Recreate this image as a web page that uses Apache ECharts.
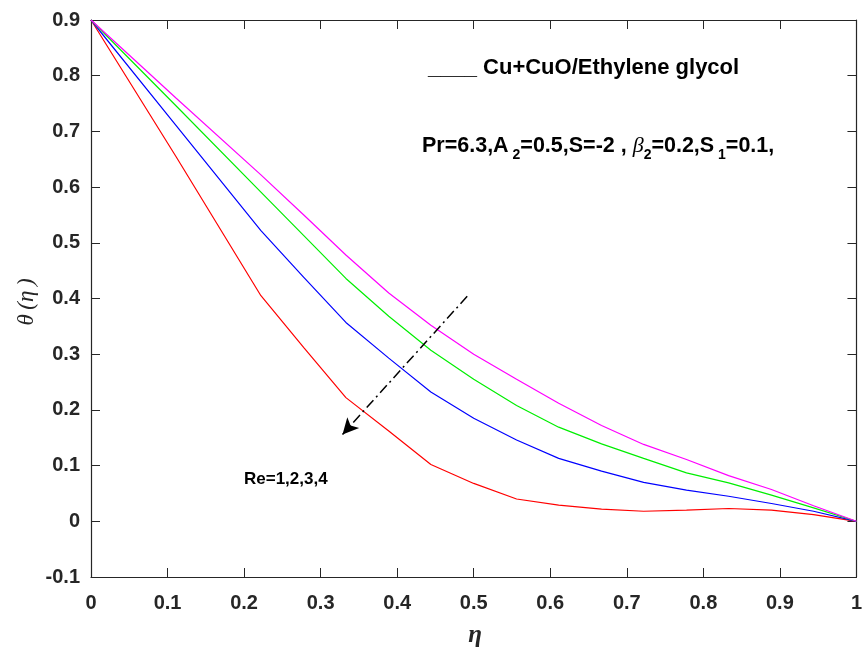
<!DOCTYPE html>
<html>
<head>
<meta charset="utf-8">
<script src="https://cdn.jsdelivr.net/npm/echarts@6/dist/echarts.min.js"></script>
<style>html,body{margin:0;padding:0;background:#fff}#c{width:865px;height:652px}</style>
</head>
<body>
<div id="c"></div>
<script>
// data
var etaValues = [0, 0.111, 0.222, 0.278, 0.333, 0.389, 0.444, 0.5, 0.556, 0.611, 0.667, 0.722, 0.778, 0.833, 0.889, 0.944, 1];
var thetaRe1 = [0.9, 0.655, 0.405, 0.312, 0.222, 0.162, 0.102, 0.068, 0.040, 0.029, 0.022, 0.018, 0.020, 0.023, 0.020, 0.012, 0];
var thetaRe2 = [0.9, 0.711, 0.522, 0.438, 0.357, 0.293, 0.232, 0.185, 0.146, 0.113, 0.090, 0.070, 0.056, 0.045, 0.032, 0.018, 0];
var thetaRe3 = [0.9, 0.746, 0.591, 0.513, 0.436, 0.368, 0.307, 0.255, 0.208, 0.169, 0.139, 0.113, 0.087, 0.069, 0.047, 0.024, 0];
var thetaRe4 = [0.9, 0.760, 0.622, 0.550, 0.478, 0.410, 0.352, 0.300, 0.255, 0.212, 0.172, 0.138, 0.111, 0.082, 0.057, 0.028, 0];
var xTicks = {min: 0, max: 1, interval: 0.1};
var yTicks = {min: -0.1, max: 0.9, interval: 0.1};
var arrowStart = [0.4915, 0.404];
var arrowEnd = [0.3286, 0.156];

function pairs(ys) { return etaValues.map(function (x, i) { return [x, ys[i]]; }); }

var axisCol = '#262626';
var lblFont = {color: axisCol, fontFamily: 'Liberation Sans, Arial, sans-serif', fontWeight: 'bold', fontSize: 20};

function lineSeries(name, ys, color, extra) {
  var s = {name: name, type: 'line', data: pairs(ys), showSymbol: false, symbol: 'none',
    lineStyle: {color: color, width: 1.2}, animation: false, z: 3};
  if (extra) for (var k in extra) s[k] = extra[k];
  return s;
}

function boxAxis(pos, isX) {
  var a = {
    type: 'value', position: pos,
    axisLine: {show: true, onZero: false, lineStyle: {color: axisCol, width: 1.2}},
    axisTick: {show: true, inside: true, length: 9, lineStyle: {color: axisCol}},
    splitLine: {show: false}
  };
  var t = isX ? xTicks : yTicks;
  a.min = t.min; a.max = t.max; a.interval = t.interval;
  return a;
}

var xBottom = boxAxis('bottom', true); xBottom.axisLabel = Object.assign({margin: 16}, lblFont);
var xTop = boxAxis('top', true); xTop.axisLabel = {show: false};
var yLeft = boxAxis('left', false); yLeft.axisLabel = Object.assign({margin: 11}, lblFont);
var yRight = boxAxis('right', false); yRight.axisLabel = {show: false};

var chart = echarts.init(document.getElementById('c'), null, {renderer: 'canvas'});
chart.setOption({
  backgroundColor: '#fff',
  animation: false,
  grid: {left: 91, top: 20, right: 7, bottom: 75, containLabel: false},
  xAxis: [xBottom, xTop],
  yAxis: [yLeft, yRight],
  series: [
    lineSeries('Re=1', thetaRe1, '#ff0000', {
      markLine: {
        silent: true, animation: false, symbolSize: [12, 16], label: {show: false},
        lineStyle: {color: '#000', width: 1.5, type: [10, 4, 2, 4]},
        data: [[{coord: arrowStart, symbol: 'none'}, {coord: arrowEnd, symbol: 'arrow'}]]
      }
    }),
    lineSeries('Re=2', thetaRe2, '#0000ff'),
    lineSeries('Re=3', thetaRe3, '#00ee00'),
    lineSeries('Re=4', thetaRe4, '#ff00ff')
  ],
  graphic: [
    {type: 'text', x: 428, y: 68, style: {text: '____ Cu+CuO/Ethylene glycol', fill: '#000',
      font: 'bold 22px "Liberation Sans", Arial, sans-serif', verticalAlign: 'middle'}},
    {type: 'text', x: 422, y: 146, style: {
      text: '{n|Pr=6.3,A}{s| 2}{n|=0.5,S=-2 , }{b|β}{s|2}{n|=0.2,S}{s| 1}{n|=0.1,}',
      verticalAlign: 'middle', fill: '#000',
      rich: {
        n: {fontFamily: 'Liberation Sans, Arial, sans-serif', fontWeight: 'bold', fontSize: 21.5, lineHeight: 32, verticalAlign: 'middle', fill: '#000'},
        b: {fontFamily: 'Liberation Serif, Times New Roman, serif', fontStyle: 'italic', fontSize: 22, lineHeight: 32, verticalAlign: 'middle', fill: '#000'},
        s: {fontFamily: 'Liberation Sans, Arial, sans-serif', fontWeight: 'bold', fontSize: 14, lineHeight: 14, verticalAlign: 'bottom', fill: '#000'}
      }
    }},
    {type: 'text', x: 244, y: 479, style: {text: 'Re=1,2,3,4', fill: '#000',
      font: 'bold 17px "Liberation Sans", Arial, sans-serif', verticalAlign: 'middle'}},
    {type: 'text', x: 475, y: 636, style: {text: 'η', fill: axisCol, align: 'center', verticalAlign: 'middle',
      font: 'italic bold 25px "Liberation Serif", "Times New Roman", serif'}},
    {type: 'text', x: 27, y: 302, rotation: Math.PI / 2, style: {text: 'θ\u2009(η\u2009)', fill: axisCol, align: 'center', verticalAlign: 'middle',
      font: 'italic 23px "Liberation Serif", "Times New Roman", serif'}}
  ]
});
</script>
</body>
</html>
